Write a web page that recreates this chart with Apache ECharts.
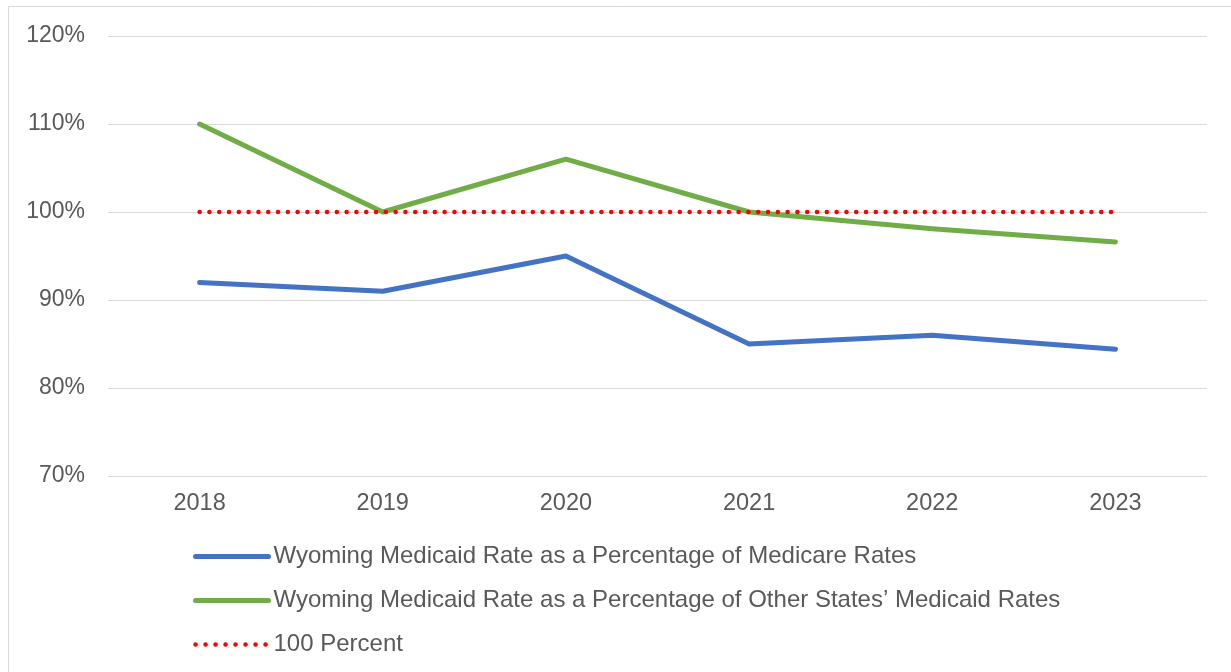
<!DOCTYPE html>
<html>
<head>
<meta charset="utf-8">
<script src="https://cdn.jsdelivr.net/npm/echarts@6/dist/echarts.min.js"></script>
<style>html,body{margin:0;padding:0;background:#fff}#c{width:1231px;height:672px}</style>
</head>
<body>
<div id="c"></div>
<script>
var categories = ['2018', '2019', '2020', '2021', '2022', '2023'];
var medicareRates = [92, 91, 95, 85, 86, 84.4];
var otherStatesRates = [110, 100, 106, 100, 98.1, 96.6];
var hundredPercent = [100, 100, 100, 100, 100, 100];
var seriesNames = [
  'Wyoming Medicaid Rate as a Percentage of Medicare Rates',
  'Wyoming Medicaid Rate as a Percentage of Other States\u2019 Medicaid Rates',
  '100 Percent'
];
var yTicks = [70, 80, 90, 100, 110, 120];

var chart = echarts.init(document.getElementById('c'), null, {renderer: 'canvas'});
var font = 'Liberation Sans, Arial, sans-serif';
var colors = ['#4472C4', '#70AD47', '#FF0000'];
chart.setOption({
  animation: false,
  backgroundColor: '#fff',
  graphic: [{
    type: 'rect', silent: true,
    shape: {x: 8.5, y: 6.5, width: 1240, height: 700},
    style: {fill: 'none', stroke: '#d9d9d9', lineWidth: 1}
  }],
  grid: {left: 108, right: 24, top: 36, bottom: 196, containLabel: false},
  legend: {
    orient: 'vertical', left: 188, top: 538,
    itemWidth: 73, itemHeight: 14, itemGap: 17, padding: 5,
    itemStyle: {opacity: 0},
    textStyle: {fontFamily: font, fontSize: 24, color: '#595959', lineHeight: 27},
    data: [
      {name: seriesNames[0], lineStyle: {width: 5, color: colors[0], cap: 'round'}},
      {name: seriesNames[1], lineStyle: {width: 5, color: colors[1], cap: 'round'}},
      {name: seriesNames[2], lineStyle: {width: 4.5, color: colors[2], type: [0.1, 9.9], cap: 'round'}}
    ]
  },
  xAxis: {
    type: 'category', data: categories, boundaryGap: true,
    axisLine: {show: false}, axisTick: {show: false},
    axisLabel: {fontFamily: font, fontSize: 23.5, color: '#595959', margin: 16}
  },
  yAxis: {
    type: 'value', min: yTicks[0], max: yTicks[yTicks.length - 1], interval: 10,
    axisLine: {show: false}, axisTick: {show: false},
    splitLine: {lineStyle: {color: '#d9d9d9', width: 1}},
    axisLabel: {fontFamily: font, fontSize: 23, color: '#595959', margin: 23, formatter: '{value}%'}
  },
  series: [
    {name: seriesNames[0], type: 'line', data: medicareRates, symbol: 'none', z: 3,
     itemStyle: {color: colors[0]},
     lineStyle: {color: colors[0], width: 5, cap: 'round', join: 'round'}},
    {name: seriesNames[1], type: 'line', data: otherStatesRates, symbol: 'none', z: 3,
     itemStyle: {color: colors[1]},
     lineStyle: {color: colors[1], width: 5, cap: 'round', join: 'round'}},
    {name: seriesNames[2], type: 'line', data: hundredPercent, symbol: 'none', z: 4,
     itemStyle: {color: colors[2]},
     lineStyle: {color: colors[2], width: 4.5, type: [0.1, 9.7], cap: 'round'}}
  ]
});
</script>
</body>
</html>
